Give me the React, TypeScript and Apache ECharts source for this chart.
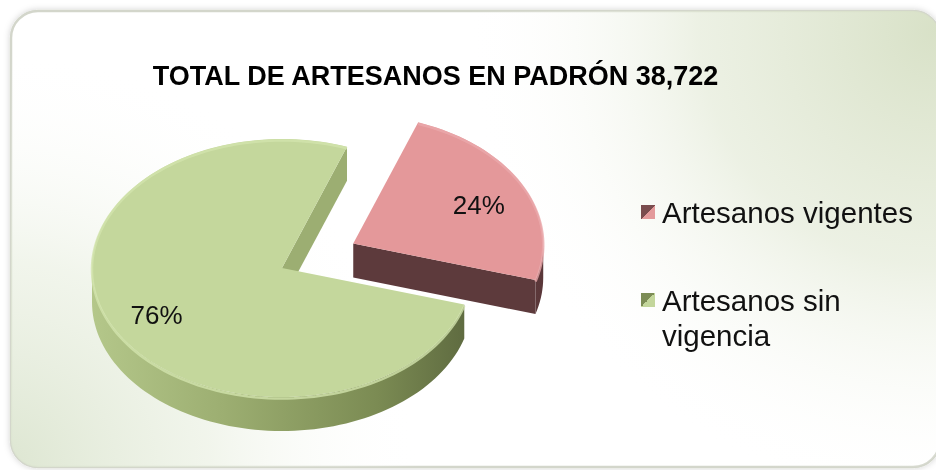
import React, { useEffect, useRef } from "react";
import * as echarts from "echarts";

const TITLE = "TOTAL DE ARTESANOS EN PADRÓN";
const TOTAL = "38,722";
const CATEGORIES = ["Artesanos vigentes", "Artesanos sin vigencia"];
const LEGEND_LINES = [["Artesanos vigentes"], ["Artesanos sin", "vigencia"]];
const VALUES = [24, 76];
const LABELS = ["24%", "76%"];
const EXPLODE = [0.42, 0];

const TOP_COLORS = ["#e4989a", "#c4d79c"];
const RIM_COLORS = ["#eaa9ab", "#d2e3ad"];
const WALL_COLORS = ["#5d3a3c", "#9cae72"];
const ICON_LIGHT = ["#e39a9b", "#c3d69b"];
const ICON_DARK = ["#7a4c4e", "#7c8c55"];

const CX = 282;
const CY = 268;
const RX = 190;
const RY = 129;
const DEPTH = 34;
const START = 70;

const rad = (d: number) => (d * Math.PI) / 180;

const sideFill = (i: number) =>
  i === 0
    ? new echarts.graphic.LinearGradient(
        360,
        0,
        545,
        0,
        [
          { offset: 0, color: "#6e4648" },
          { offset: 1, color: "#5a3739" },
        ],
        true
      )
    : new echarts.graphic.LinearGradient(
        92,
        0,
        472,
        0,
        [
          { offset: 0, color: "#b4c78a" },
          { offset: 0.35, color: "#9cae71" },
          { offset: 0.75, color: "#7b8b53" },
          { offset: 1, color: "#5d693f" },
        ],
        true
      );

function renderItem(params: any, api: any) {
  const i = params.dataIndex;
  const total = VALUES.reduce((a, b) => a + b, 0);
  let before = 0;
  for (let k = 0; k < i; k++) before += VALUES[k];
  const v = api.value(0);
  const a0 = START - (360 * before) / total;
  const a1 = a0 - (360 * v) / total;
  const mid = (a0 + a1) / 2;
  const ox = EXPLODE[i] * RX * Math.cos(rad(mid));
  const oy = -EXPLODE[i] * RY * Math.sin(rad(mid));
  const cx = CX + ox;
  const cy = CY + oy;
  const pt = (a: number, dz: number) => [
    cx + RX * Math.cos(rad(a)),
    cy - RY * Math.sin(rad(a)) + dz,
  ];
  const arc = (from: number, to: number, dz: number) => {
    const n = Math.max(2, Math.ceil(Math.abs(to - from) / 2));
    const pts: number[][] = [];
    for (let s = 0; s <= n; s++) pts.push(pt(from + ((to - from) * s) / n, dz));
    return pts;
  };
  const children: any[] = [];
  for (let k = -2; k <= 1; k++) {
    const lo = Math.max(a1, -180 + 360 * k);
    const hi = Math.min(a0, 360 * k);
    if (hi > lo) {
      const top = arc(lo, hi, 0);
      const bot = arc(hi, lo, DEPTH);
      children.push({
        type: "polygon",
        z2: 1,
        shape: { points: top.concat(bot) },
        style: { fill: sideFill(i) },
      });
    }
  }
  const wall = (b: number) => {
    const p = pt(b, 0);
    const q = pt(b, DEPTH);
    children.push({
      type: "polygon",
      z2: 2,
      shape: {
        points: [
          [cx, cy],
          p,
          q,
          [cx, cy + DEPTH],
        ],
      },
      style: { fill: WALL_COLORS[i] },
    });
  };
  if (Math.cos(rad(a0)) < 0) wall(a0);
  if (Math.cos(rad(a1)) > 0) wall(a1);
  children.push({
    type: "polygon",
    z2: 10,
    shape: { points: [[cx, cy]].concat(arc(a0, a1, 0)) },
    style: { fill: TOP_COLORS[i] },
  });
  children.push({
    type: "polyline",
    z2: 11,
    shape: { points: arc(a0, a1, 1.5) },
    style: { stroke: RIM_COLORS[i], lineWidth: 2.5, fill: null, opacity: 0.8 },
  });
  const lx = cx + 0.74 * RX * Math.cos(rad(mid));
  const ly = cy - 0.74 * RY * Math.sin(rad(mid)) + 4;
  children.push({
    type: "text",
    z2: 20,
    x: lx,
    y: ly,
    style: {
      text: LABELS[i],
      fill: "#111111",
      font: '26px "Liberation Sans", Arial, sans-serif',
      align: "center",
      verticalAlign: "middle",
    },
  });
  return { type: "group", children };
}

export default function App() {
  const ref = useRef<HTMLDivElement>(null);
  useEffect(() => {
    if (!ref.current) return;
    const chart = echarts.init(ref.current, undefined, { renderer: "svg" });
    const bgShape = { x: 11, y: 11, width: 929, height: 456, r: 27 };
    const legendEls: any[] = [];
    const legendTop = [205, 293];
    const textY = [212, 317.5];
    CATEGORIES.forEach((_, i) => {
      legendEls.push({
        type: "rect",
        shape: { x: 641, y: legendTop[i], width: 14, height: 14 },
        style: {
          fill: new echarts.graphic.LinearGradient(
            0,
            0,
            1,
            1,
            [
              { offset: 0, color: ICON_DARK[i] },
              { offset: 0.5, color: ICON_DARK[i] },
              { offset: 0.5, color: ICON_LIGHT[i] },
              { offset: 1, color: ICON_LIGHT[i] },
            ]
          ),
        },
      });
      legendEls.push({
        type: "text",
        x: 662,
        y: textY[i],
        style: {
          text: LEGEND_LINES[i].join("\n"),
          fill: "#111111",
          font: '29.5px "Liberation Sans", Arial, sans-serif',
          lineHeight: 35,
          align: "left",
          verticalAlign: "middle",
        },
      });
    });
    chart.setOption({
      animation: false,
      graphic: [
        {
          type: "rect",
          shape: bgShape,
          style: {
            fill: "#ffffff",
            stroke: "#d3d6cb",
            lineWidth: 2.5,
            shadowBlur: 6,
            shadowColor: "rgba(0,0,0,0.18)",
          },
        },
        {
          type: "rect",
          shape: bgShape,
          style: {
            fill: {
              type: "radial",
              x: 936,
              y: 30,
              r: 470,
              global: true,
              colorStops: [
                { offset: 0, color: "rgba(216,225,199,1)" },
                { offset: 0.5, color: "rgba(226,233,213,0.65)" },
                { offset: 1, color: "rgba(255,255,255,0)" },
              ],
            },
          },
        },
        {
          type: "rect",
          shape: bgShape,
          style: {
            fill: {
              type: "radial",
              x: 0,
              y: 470,
              r: 420,
              global: true,
              colorStops: [
                { offset: 0, color: "rgba(220,229,208,1)" },
                { offset: 0.5, color: "rgba(230,237,220,0.55)" },
                { offset: 1, color: "rgba(255,255,255,0)" },
              ],
            },
          },
        },
        {
          type: "text",
          x: 435.5,
          y: 76,
          style: {
            text: TITLE + " " + TOTAL,
            fill: "#000000",
            font: 'bold 27px "Liberation Sans", Arial, sans-serif',
            align: "center",
            verticalAlign: "middle",
          },
        },
        ...legendEls,
      ],
      series: [
        {
          type: "custom",
          coordinateSystem: "none",
          renderItem,
          data: CATEGORIES.map((name, i) => ({ name, value: [VALUES[i]] })),
        },
      ],
    });
    return () => chart.dispose();
  }, []);
  return (
    <div
      ref={ref}
      style={{ position: "fixed", left: 0, top: 0, width: 936, height: 470 }}
    />
  );
}
